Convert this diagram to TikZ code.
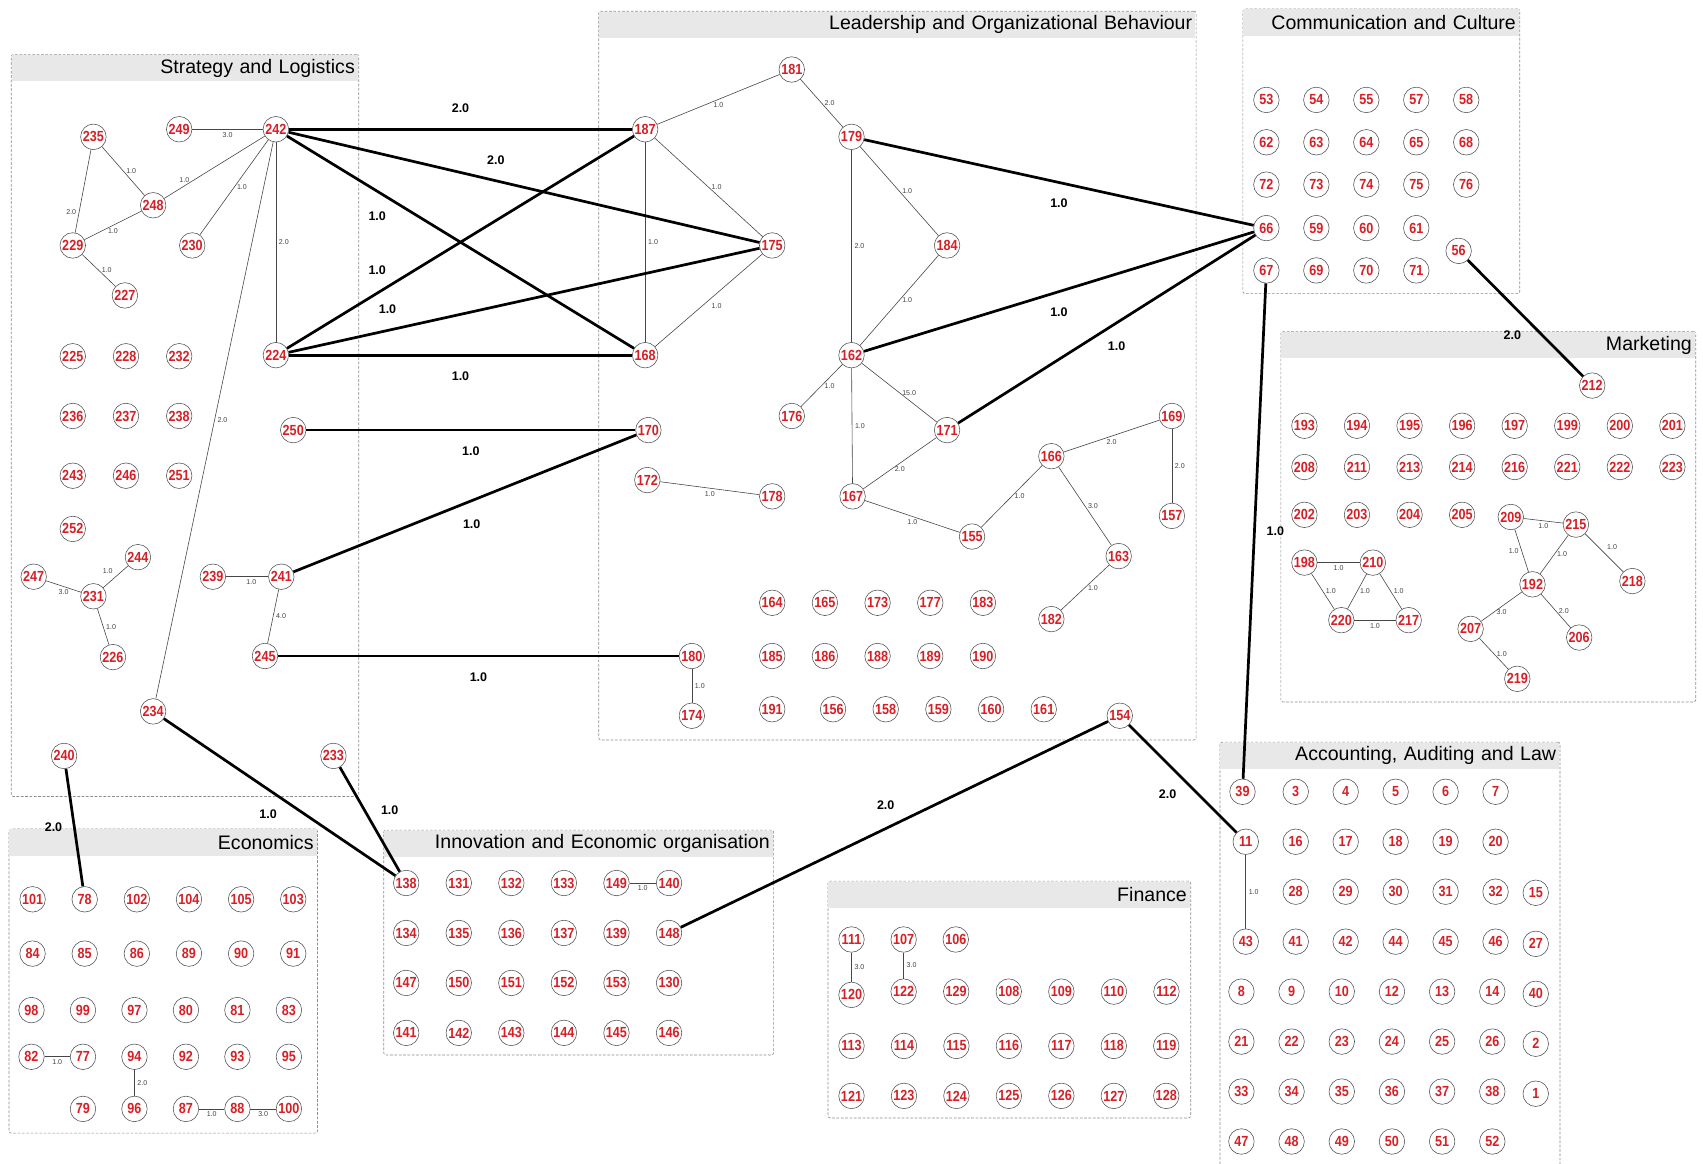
\documentclass[tikz,border=0pt]{standalone}
\usepackage{fontspec}
\setmainfont{Liberation Sans}
\newfontfamily\vertexfont[FakeStretch=0.86]{Liberation Sans}
\definecolor{NodeRed}{RGB}{214,32,38}
\definecolor{HeadGray}{RGB}{232,232,232}
\tikzset{
  vertex/.style={circle,draw=gray!60!black,line width=0.5pt,fill=white,
    minimum size=23.5pt,inner sep=0pt,text=NodeRed,
    font=\vertexfont\fontsize{13.5}{13.5}\selectfont\bfseries},
  thinedge/.style={draw=gray!55!black,line width=0.55pt},
  thickedge/.style={draw=black,line width=2.5pt},
  wlabel/.style={font=\fontsize{6.5}{7}\selectfont,text=black!75,inner sep=2.5pt},
  blabel/.style={font=\fontsize{11.5}{12}\selectfont\bfseries,inner sep=4pt},
  groupbox/.style={draw=gray!90,dash pattern=on 2.5pt off 1.5pt,line width=0.6pt,
    rounded corners=2pt,anchor=north west,inner sep=0pt},
  grouptitle/.style={fill=HeadGray,anchor=north west,inner xsep=3pt,inner ysep=0pt,
    minimum height=24pt,align=right,font=\fontsize{18}{20}\selectfont},
}

\begin{document}
\begin{tikzpicture}[x=1pt,y=-1pt]
  \useasboundingbox (0,0) rectangle (1568,1071);

  \node[groupbox,minimum width=320pt,minimum height=683pt] (strategy) at (10,50) {};
  \node[grouptitle,text width=313pt] (strategytitle) at (10.5,50.5) {Strategy and Logistics};
  \node[groupbox,minimum width=550pt,minimum height=671pt] (leadership) at (551,10) {};
  \node[grouptitle,text width=543pt] (leadershiptitle) at (551.5,10.5) {Leadership and Organizational Behaviour};
  \node[groupbox,minimum width=255pt,minimum height=262pt] (communication) at (1144,8) {};
  \node[grouptitle,text width=248pt] (communicationtitle) at (1144.5,8.5) {Communication and Culture};
  \node[groupbox,minimum width=382pt,minimum height=341pt] (marketing) at (1179,305) {};
  \node[grouptitle,text width=375pt] (marketingtitle) at (1179.5,305.5) {Marketing};
  \node[groupbox,minimum width=313pt,minimum height=400pt] (accounting) at (1123,683) {};
  \node[grouptitle,text width=306pt] (accountingtitle) at (1123.5,683.5) {Accounting, Auditing and Law};
  \node[groupbox,minimum width=334pt,minimum height=218pt] (finance) at (762,811) {};
  \node[grouptitle,text width=327pt] (financetitle) at (762.5,811.5) {Finance};
  \node[groupbox,minimum width=359pt,minimum height=207pt] (innovation) at (353,764) {};
  \node[grouptitle,text width=352pt] (innovationtitle) at (353.5,764.5) {Innovation and Economic organisation};
  \node[groupbox,minimum width=284pt,minimum height=280pt] (economics) at (8,763) {};
  \node[grouptitle,text width=277pt] (economicstitle) at (8.5,763.5) {Economics};

  % Strategy and Logistics
  \foreach \n/\x/\y in {249/165/119,242/254/119,235/86/126,248/141/189,229/67/226,
      230/177/226,227/115/272,224/254/327,250/270/396,252/67/487,244/127/513,
      247/31/531,231/86/549,239/196/531,241/259/531,226/104/605,245/244/604,
      234/141/655,240/59/696,233/307/696}
    \node[vertex] (n\n) at (\x,\y) {\n};
  \foreach \y/\row in {328/{225,228,232},383/{236,237,238},438/{243,246,251}}
    \foreach \n [count=\i from 0] in \row
      \node[vertex] (n\n) at ({67+49*\i},\y) {\n};

  % Leadership and Organizational Behaviour
  \foreach \n/\x/\y in {181/729/64,187/594/119,179/784/126,175/711/226,184/872/226,
      168/594/327,162/784/327,176/729/383,170/597/396,171/872/396,169/1079/383,
      166/968/420,172/596/442,178/711/457,167/785/457,157/1079/475,155/895/494,
      163/1030/512,182/968/570,180/637/604,174/637/659,154/1031/659,191/711/653}
    \node[vertex] (n\n) at (\x,\y) {\n};
  \foreach \y/\row in {555/{164,165,173,177,183},604/{185,186,188,189,190}}
    \foreach \n [count=\i from 0] in \row
      \node[vertex] (n\n) at ({711+48.5*\i},\y) {\n};
  \foreach \n [count=\i from 0] in {156,158,159,160,161}
    \node[vertex] (n\n) at ({767+48.5*\i},653) {\n};

  % Communication and Culture
  \foreach \y/\row in {92/{53,54,55,57,58},131/{62,63,64,65,68},170/{72,73,74,75,76},
      210/{66,59,60,61},249/{67,69,70,71}}
    \foreach \n [count=\i from 0] in \row
      \node[vertex] (n\n) at ({1166+46*\i},\y) {\n};
  \node[vertex] (n56) at (1343,231) {56};

  % Marketing
  \foreach \y/\row in {392/{193,194,195,196,197,199,200,201},
      430/{208,211,213,214,216,221,222,223},474/{202,203,204,205}}
    \foreach \n [count=\i from 0] in \row
      \node[vertex] (n\n) at ({1201+48.4*\i},\y) {\n};
  \foreach \n/\x/\y in {212/1466/355,209/1391/476,215/1451/483,198/1201/518,
      210/1264/518,218/1503/535,192/1411/538,220/1235/571,217/1297/571,
      207/1354/579,206/1454/587,219/1397/625}
    \node[vertex] (n\n) at (\x,\y) {\n};

  % Accounting, Auditing and Law
  \foreach \y/\row in {729/{3,4,5,6,7},775/{16,17,18,19,20},821/{28,29,30,31,32},
      867/{41,42,44,45,46}}
    \foreach \n [count=\i from 0] in \row
      \node[vertex] (n\n) at ({1193+46*\i},\y) {\n};
  \foreach \y/\row in {913/{8,9,10,12,13,14},959/{21,22,23,24,25,26},
      1005/{33,34,35,36,37,38},1051/{47,48,49,50,51,52}}
    \foreach \n [count=\i from 0] in \row
      \node[vertex] (n\n) at ({1143+46.2*\i},\y) {\n};
  \foreach \n/\x/\y in {39/1144/729,11/1147/775,43/1147/867,15/1414/822,
      27/1414/869,40/1414/915,2/1414/961,1/1414/1007}
    \node[vertex] (n\n) at (\x,\y) {\n};

  % Finance
  \foreach \n/\x/\y in {111/784/865,107/832/865,106/880/865,120/784/916}
    \node[vertex] (n\n) at (\x,\y) {\n};
  \foreach \n [count=\i from 0] in {122,129,108,109,110,112}
    \node[vertex] (n\n) at ({832+48.4*\i},913) {\n};
  \foreach \y/\row in {963/{113,114,115,116,117,118,119},1009/{121,123,124,125,126,127,128}}
    \foreach \n [count=\i from 0] in \row
      \node[vertex] (n\n) at ({784+48.3*\i},\y) {\n};

  % Innovation and Economic organisation
  \foreach \y/\row in {813/{138,131,132,133,149,140},859/{134,135,136,137,139,148},
      905/{147,150,151,152,153,130},951/{141,142,143,144,145,146}}
    \foreach \n [count=\i from 0] in \row
      \node[vertex] (n\n) at ({374+48.4*\i},\y) {\n};

  % Economics
  \foreach \y/\row in {828/{101,78,102,104,105,103},878/{84,85,86,89,90,91}}
    \foreach \n [count=\i from 0] in \row
      \node[vertex] (n\n) at ({30+48*\i},\y) {\n};
  \foreach \y/\row in {930/{98,99,97,80,81,83},973/{82,77,94,92,93,95}}
    \foreach \n [count=\i from 0] in \row
      \node[vertex] (n\n) at ({29+47.4*\i},\y) {\n};
  \foreach \n [count=\i from 1] in {79,96,87,88,100}
    \node[vertex] (n\n) at ({29+47.4*\i},1021) {\n};

  % weighted links inside the groups
  \draw[thinedge] (n249) -- node[wlabel,below]{3.0} (n242);
  \draw[thinedge] (n235) -- node[wlabel,right]{1.0} (n248);
  \draw[thinedge] (n235) -- node[wlabel,pos=0.75,left]{2.0} (n229);
  \draw[thinedge] (n248) -- node[wlabel,below]{1.0} (n229);
  \draw[thinedge] (n248) -- node[wlabel,pos=0.2,above]{1.0} (n242);
  \draw[thinedge] (n229) -- node[wlabel,right]{1.0} (n227);
  \draw[thinedge] (n242) -- node[wlabel,right]{1.0} (n230);
  \draw[thinedge] (n242) -- node[wlabel,right]{2.0} (n224);
  \draw[thinedge] (n242) -- node[wlabel,right]{2.0} (n234);
  \draw[thinedge] (n247) -- node[wlabel,below]{3.0} (n231);
  \draw[thinedge] (n231) -- node[wlabel,above left]{1.0} (n244);
  \draw[thinedge] (n231) -- node[wlabel,right]{1.0} (n226);
  \draw[thinedge] (n239) -- node[wlabel,pos=0.6,below]{1.0} (n241);
  \draw[thinedge] (n241) -- node[wlabel,right]{4.0} (n245);

  \draw[thinedge] (n187) -- node[wlabel,below]{1.0} (n181);
  \draw[thinedge] (n181) -- node[wlabel,right]{2.0} (n179);
  \draw[thinedge] (n187) -- node[wlabel,right]{1.0} (n175);
  \draw[thinedge] (n187) -- node[wlabel,right]{1.0} (n168);
  \draw[thinedge] (n175) -- node[wlabel,below right]{1.0} (n168);
  \draw[thinedge] (n179) -- node[wlabel,right]{1.0} (n184);
  \draw[thinedge] (n179) -- node[wlabel,right]{2.0} (n162);
  \draw[thinedge] (n184) -- node[wlabel,right]{1.0} (n162);
  \draw[thinedge] (n162) -- node[wlabel,right]{1.0} (n176);
  \draw[thinedge] (n162) -- node[wlabel,right]{15.0} (n171);
  \draw[thinedge] (n162) -- node[wlabel,right]{1.0} (n167);
  \draw[thinedge] (n171) -- node[wlabel,below]{2.0} (n167);
  \draw[thinedge] (n167) -- node[wlabel,below]{1.0} (n155);
  \draw[thinedge] (n155) -- node[wlabel,right]{1.0} (n166);
  \draw[thinedge] (n166) -- node[wlabel,below]{2.0} (n169);
  \draw[thinedge] (n169) -- node[wlabel,right]{2.0} (n157);
  \draw[thinedge] (n166) -- node[wlabel,right]{3.0} (n163);
  \draw[thinedge] (n163) -- node[wlabel,right]{1.0} (n182);
  \draw[thinedge] (n172) -- node[wlabel,below]{1.0} (n178);
  \draw[thinedge] (n180) -- node[wlabel,right]{1.0} (n174);

  \draw[thinedge] (n209) -- node[wlabel,below]{1.0} (n215);
  \draw[thinedge] (n209) -- node[wlabel,left]{1.0} (n192);
  \draw[thinedge] (n215) -- node[wlabel,right]{1.0} (n192);
  \draw[thinedge] (n215) -- node[wlabel,above right]{1.0} (n218);
  \draw[thinedge] (n192) -- node[wlabel,below]{3.0} (n207);
  \draw[thinedge] (n192) -- node[wlabel,right]{2.0} (n206);
  \draw[thinedge] (n207) -- node[wlabel,right]{1.0} (n219);
  \draw[thinedge] (n198) -- node[wlabel,below]{1.0} (n210);
  \draw[thinedge] (n198) -- node[wlabel,right]{1.0} (n220);
  \draw[thinedge] (n210) -- node[wlabel,right]{1.0} (n220);
  \draw[thinedge] (n210) -- node[wlabel,right]{1.0} (n217);
  \draw[thinedge] (n220) -- node[wlabel,below]{1.0} (n217);

  \draw[thinedge] (n11) -- node[wlabel,right]{1.0} (n43);
  \draw[thinedge] (n111) -- node[wlabel,right]{3.0} (n120);
  \draw[thinedge] (n107) -- node[wlabel,right]{3.0} (n122);
  \draw[thinedge] (n149) -- node[wlabel,below]{1.0} (n140);
  \draw[thinedge] (n82) -- node[wlabel,below]{1.0} (n77);
  \draw[thinedge] (n94) -- node[wlabel,right]{2.0} (n96);
  \draw[thinedge] (n87) -- node[wlabel,below]{1.0} (n88);
  \draw[thinedge] (n88) -- node[wlabel,below]{3.0} (n100);

  % links between the groups
  \draw[thickedge] (n242) -- node[blabel,above=10pt]{2.0} (n187);
  \draw[thickedge] (n242) -- node[blabel,pos=0.44,above=10pt]{2.0} (n175);
  \draw[thickedge] (n242) -- node[blabel,pos=0.26,below=14pt]{1.0} (n168);
  \draw[thickedge] (n224) -- node[blabel,pos=0.26,above=12pt]{1.0} (n187);
  \draw[thickedge] (n224) -- node[blabel,pos=0.21,above=10pt]{1.0} (n175);
  \draw[thickedge] (n224) -- node[blabel,below=10pt]{1.0} (n168);
  \draw[thickedge] (n250) -- node[blabel,below=10pt]{1.0} (n170);
  \draw[thickedge] (n241) -- node[blabel,pos=0.52,below=12pt]{1.0} (n170);
  \draw[thickedge] (n245) -- node[blabel,below=10pt]{1.0} (n180);
  \draw[thickedge] (n234) -- node[blabel,pos=0.45,below=14pt]{1.0} (n138);
  \draw[thickedge] (n233) -- node[blabel,pos=0.41,right=10pt]{1.0} (n138);
  \draw[thickedge] (n240) -- node[blabel,left=6pt]{2.0} (n78);
  \draw[thickedge] (n179) -- node[blabel,below=10pt]{1.0} (n66);
  \draw[thickedge] (n162) -- node[blabel,below=10pt]{1.0} (n66);
  \draw[thickedge] (n171) -- node[blabel,below=6pt,xshift=9pt]{1.0} (n66);
  \draw[thickedge] (n56) -- node[blabel,below=6pt,xshift=-12pt]{2.0} (n212);
  \draw[thickedge] (n67) -- node[blabel,right=6pt]{1.0} (n39);
  \draw[thickedge] (n154) -- node[blabel,below=5pt,xshift=-14pt]{2.0} (n11);
  \draw[thickedge] (n154) -- node[blabel,above=8pt,xshift=-8pt]{2.0} (n148);
\end{tikzpicture}
\end{document}
